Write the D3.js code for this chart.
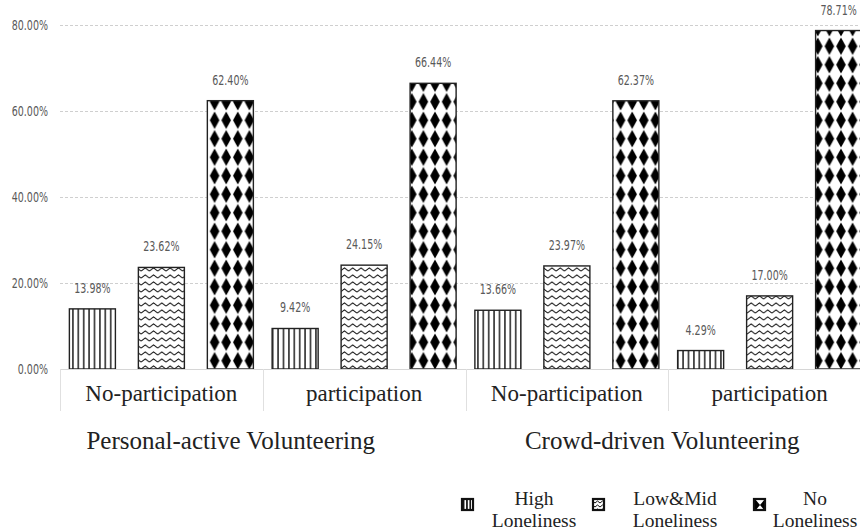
<!DOCTYPE html>
<html>
<head>
<meta charset="utf-8">
<script src="https://cdn.jsdelivr.net/npm/d3@7"></script>
<style>
  html, body { margin: 0; padding: 0; background: #fff; }
  svg { display: block; }
</style>
</head>
<body>
<svg id="chart" width="860" height="531"></svg>
<script>
// Share of respondents by loneliness level, per volunteering type and participation
const groupLabels = ["Personal-active Volunteering", "Crowd-driven Volunteering"];
const categories = ["No-participation", "participation", "No-participation", "participation"];
const seriesNames = ["High Loneliness", "Low&Mid Loneliness", "No Loneliness"];
const highLoneliness = [13.98, 9.42, 13.66, 4.29];
const lowMidLoneliness = [23.62, 24.15, 23.97, 17.00];
const noLoneliness = [62.40, 66.44, 62.37, 78.71];
const yTicks = [0, 20, 40, 60, 80];

const seriesValues = [highLoneliness, lowMidLoneliness, noLoneliness];
const patternIds = ["pat-high", "pat-mid", "pat-none"];

const svg = d3.select("#chart");
const numFont = "'DejaVu Sans Condensed', 'Liberation Sans Narrow', 'Arial Narrow', sans-serif";
const serifFont = "'Liberation Serif', 'Times New Roman', serif";
const pct = v => d3.format(".2f")(v) + "%";

// narrow numeric labels: positioned by transform and squeezed horizontally
function numText(sel, xf, yf) {
  sel.attr("transform", d => `translate(${xf(d)},${yf(d)}) scale(0.73,1)`)
    .attr("font-family", numFont).attr("font-stretch", "condensed")
    .attr("font-size", 14.5).attr("fill", "#595959");
}

// ---- fill patterns ----
const defs = svg.append("defs");

function vertLines(id, w, h, lw) {
  const p = defs.append("pattern").attr("id", id)
    .attr("patternUnits", "userSpaceOnUse").attr("width", w).attr("height", h);
  p.append("rect").attr("width", w).attr("height", h).attr("fill", "#fff");
  p.append("rect").attr("x", (w - lw) / 2).attr("width", lw).attr("height", h).attr("fill", "#111");
}
function zigzag(id, w, h, amp, lw) {
  const p = defs.append("pattern").attr("id", id)
    .attr("patternUnits", "userSpaceOnUse").attr("width", w).attr("height", h);
  p.append("rect").attr("width", w).attr("height", h).attr("fill", "#fff");
  const y0 = h / 2;
  p.append("path")
    .attr("d", `M0,${y0 + amp} L${w / 2},${y0 - amp} L${w},${y0 + amp}`)
    .attr("fill", "none").attr("stroke", "#111").attr("stroke-width", lw);
}
function diamonds(id, w, h, hw, hh) {
  const p = defs.append("pattern").attr("id", id)
    .attr("patternUnits", "userSpaceOnUse").attr("width", w).attr("height", h);
  p.append("rect").attr("width", w).attr("height", h).attr("fill", "#fff");
  const cx = w / 2, cy = h / 2;
  p.append("path")
    .attr("d", `M${cx},${cy - hh} L${cx + hw},${cy} L${cx},${cy + hh} L${cx - hw},${cy} Z`)
    .attr("fill", "#000");
}
vertLines("pat-high", 5.4, 10, 1.4);
zigzag("pat-mid", 8.3, 7, 1.6, 1.1);
diamonds("pat-none", 11.6, 18.5, 4.8, 8.8);
vertLines("leg-high", 3.3, 10, 1.6);
zigzag("leg-mid", 5, 4, 1.0, 1.0);
diamonds("leg-none", 10, 10, 5, 6);

// ---- scales ----
const plotLeft = 60, plotRight = 871, baseY = 369, topY = 25;
const x0 = d3.scaleBand().domain(d3.range(categories.length)).range([plotLeft, plotRight]).padding(0);
const x1 = d3.scaleBand().domain(d3.range(seriesNames.length)).range([0, x0.bandwidth()])
  .paddingInner(0.333).paddingOuter(0.136);
const y = d3.scaleLinear().domain([0, 80]).range([baseY, topY]);

// ---- gridlines and y labels ----
const grid = svg.append("g");
grid.selectAll("line").data(yTicks.filter(d => d > 0)).join("line")
  .attr("x1", plotLeft).attr("x2", 860)
  .attr("y1", d => Math.round(y(d)) + 0.5).attr("y2", d => Math.round(y(d)) + 0.5)
  .attr("stroke", "#cfcfcf").attr("stroke-width", 1).attr("stroke-dasharray", "3,2");

svg.append("g").selectAll("text").data(yTicks).join("text")
  .call(numText, () => 48, d => y(d))
  .attr("dy", "0.35em")
  .attr("text-anchor", "end")
  .text(pct);

// ---- bars ----
const rows = [];
categories.forEach((c, i) => seriesValues.forEach((vals, s) => rows.push({ cat: i, s, v: vals[i] })));

const bars = svg.append("g");
bars.selectAll("rect").data(rows).join("rect")
  .attr("x", d => x0(d.cat) + x1(d.s))
  .attr("y", d => y(d.v))
  .attr("width", x1.bandwidth())
  .attr("height", d => baseY - y(d.v))
  .attr("fill", d => `url(#${patternIds[d.s]})`)
  .attr("stroke", "#222").attr("stroke-width", 1.4);

bars.selectAll("text").data(rows).join("text")
  .call(numText, d => x0(d.cat) + x1(d.s) + x1.bandwidth() / 2, d => y(d.v) - 16)
  .attr("text-anchor", "middle")
  .text(d => pct(d.v));

// ---- category axis (boxed labels) ----
const axis = svg.append("g");
axis.append("line").attr("x1", plotLeft).attr("x2", 860)
  .attr("y1", baseY + 0.5).attr("y2", baseY + 0.5)
  .attr("stroke", "#d6d6d6").attr("stroke-width", 1);
const seps = d3.range(categories.length + 1).map(i => i < categories.length ? x0(i) : plotRight);
axis.selectAll("line.sep").data(seps).join("line").attr("class", "sep")
  .attr("x1", d => Math.round(d) + 0.5).attr("x2", d => Math.round(d) + 0.5)
  .attr("y1", baseY).attr("y2", 411)
  .attr("stroke", "#e0e0e0").attr("stroke-width", 1);
axis.selectAll("text").data(categories).join("text")
  .attr("x", (d, i) => x0(i) + x0.bandwidth() / 2)
  .attr("y", 401)
  .attr("text-anchor", "middle")
  .attr("font-family", serifFont).attr("font-size", 23).attr("fill", "#222")
  .text(d => d);

// group labels spanning two categories each
const groupShift = [-32, -6];
svg.append("g").selectAll("text").data(groupLabels).join("text")
  .attr("x", (d, i) => x0(i * 2 + 1) + groupShift[i])
  .attr("y", 449)
  .attr("text-anchor", "middle")
  .attr("font-family", serifFont).attr("font-size", 25).attr("fill", "#222")
  .text(d => d);

// ---- legend ----
const legendIds = ["leg-high", "leg-mid", "leg-none"];
const legendIconX = [462, 593, 754];
const legendTextX = [534, 675, 815];
const legend = svg.append("g");
seriesNames.forEach((name, i) => {
  legend.append("rect")
    .attr("x", legendIconX[i]).attr("y", 499).attr("width", 11).attr("height", 11)
    .attr("fill", `url(#${legendIds[i]})`).attr("stroke", "#111").attr("stroke-width", 2.2);
  const parts = name.split(" ");
  const t = legend.append("text")
    .attr("text-anchor", "middle")
    .attr("font-family", serifFont).attr("font-size", 19.5).attr("fill", "#222");
  t.append("tspan").attr("x", legendTextX[i]).attr("y", 505).text(parts[0]);
  t.append("tspan").attr("x", legendTextX[i]).attr("y", 527).text(parts[1]);
});
</script>
</body>
</html>
